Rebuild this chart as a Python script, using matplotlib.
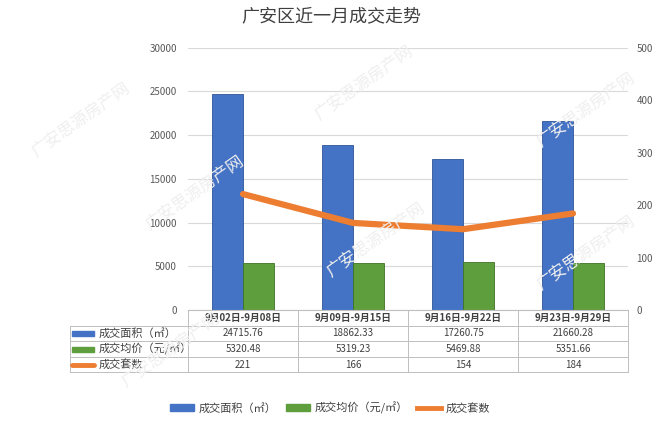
import numpy as np
import matplotlib.pyplot as plt
from matplotlib import transforms
from matplotlib.patches import Rectangle, Patch
from matplotlib.lines import Line2D

plt.rcParams['font.family'] = ['Noto Sans CJK SC', 'DejaVu Sans']

# data
periods = ['9月02日-9月08日', '9月09日-9月15日', '9月16日-9月22日', '9月23日-9月29日']
area = [24715.76, 18862.33, 17260.75, 21660.28]
price = [5320.48, 5319.23, 5469.88, 5351.66]
units = [221, 166, 154, 184]
names = ['成交面积（㎡）', '成交均价（元/㎡）', '成交套数']
left_ticks = [0, 5000, 10000, 15000, 20000, 25000, 30000]
right_ticks = [0, 100, 200, 300, 400, 500]

BLUE = '#4472c4'
GREEN = '#5f9e3d'
ORANGE = '#ed7d31'
GRID = '#d9d9d9'
TXT = '#404040'

W, H = 662, 428
fig = plt.figure(figsize=(W / 100, H / 100), dpi=100)

# plot area in pixels
x0, x1, ytop, ybot = 188, 628, 47.7, 310
ax = fig.add_axes([x0 / W, 1 - ybot / H, (x1 - x0) / W, (ybot - ytop) / H])

x = np.arange(len(periods))
w = 0.28
ax.bar(x - w / 2, area, w, color=BLUE, edgecolor='#2f5597', lw=0.6, zorder=2)
ax.bar(x + w / 2, price, w, color=GREEN, edgecolor='#3e7326', lw=0.6, zorder=2)
ax.set_xlim(-0.5, len(periods) - 0.5)
ax.set_ylim(0, 30000)
ax.set_yticks(left_ticks)
ax.set_yticklabels([str(t) for t in left_ticks], fontsize=7, color='#595959')
ax.set_xticks([])
ax.tick_params(axis='y', length=0, pad=8)
ax.grid(axis='y', color=GRID, lw=0.8, zorder=0)
for s in ['top', 'left', 'right']:
    ax.spines[s].set_visible(False)
ax.spines['bottom'].set_color('#bfbfbf')

ax2 = ax.twinx()
ax2.plot(x, units, color=ORANGE, lw=4.5, solid_capstyle='round', zorder=3)
ax2.set_ylim(0, 500)
ax2.set_yticks(right_ticks)
ax2.set_yticklabels([str(t) for t in right_ticks], fontsize=7, color='#595959')
ax2.tick_params(axis='y', length=0, pad=6)
for s in ['top', 'left', 'right', 'bottom']:
    ax2.spines[s].set_visible(False)

# data table under the axis
trans = transforms.blended_transform_factory(ax.transData, ax.transAxes)
ph = ybot - ytop


def ya(p):
    return (ybot - p) / ph


def xd(p):
    return (p - x0) / ((x1 - x0) / len(periods)) - 0.5


rows = [310, 325.5, 341, 357, 372]
tleft = xd(70)
lc = '#bfbfbf'
for r in rows[1:]:
    ax.add_line(Line2D([tleft, len(periods) - 0.5], [ya(r), ya(r)], transform=trans,
                       color=lc, lw=0.7, clip_on=False))
for b in np.arange(len(periods) + 1) - 0.5:
    ax.add_line(Line2D([b, b], [ya(rows[0]), ya(rows[-1])], transform=trans,
                       color=lc, lw=0.7, clip_on=False))
ax.add_line(Line2D([tleft, tleft], [ya(rows[1]), ya(rows[-1])], transform=trans,
                   color=lc, lw=0.7, clip_on=False))

for i, p in enumerate(periods):
    ax.text(i, ya((rows[0] + rows[1]) / 2), p, transform=trans, ha='center', va='center',
            fontsize=7, color=TXT, fontweight='bold', clip_on=False)

cols = [['%.2f' % v for v in area], ['%.2f' % v for v in price], [str(v) for v in units]]
for k, vals in enumerate(cols):
    yc = ya((rows[k + 1] + rows[k + 2]) / 2)
    for i, v in enumerate(vals):
        ax.text(i, yc, v, transform=trans, ha='center', va='center',
                fontsize=7, color=TXT, clip_on=False)
    ax.text(xd(99), yc, names[k], transform=trans, ha='left', va='center',
            fontsize=8, color=TXT, clip_on=False)
    if k < 2:
        ax.add_patch(Rectangle((xd(72), yc - 2.5 / ph), xd(94) - xd(72), 5 / ph,
                               transform=trans, color=[BLUE, GREEN][k], clip_on=False))
    else:
        ax.add_line(Line2D([xd(72), xd(94)], [yc, yc], transform=trans, color=ORANGE,
                           lw=3.5, solid_capstyle='round', clip_on=False))

# bottom legend
handles = [Patch(color=BLUE), Patch(color=GREEN), Line2D([], [], color=ORANGE, lw=3.5)]
fig.legend(handles, names, loc='center', bbox_to_anchor=(330 / W, 1 - 408 / H), ncol=3,
           frameon=False, fontsize=8, handlelength=2.2, handleheight=0.6, columnspacing=0.8,
           handletextpad=0.4, labelcolor=TXT)

fig.text(331 / W, 1 - 17 / H, '广安区近一月成交走势', fontsize=13, ha='center', va='center',
         color=TXT)

# faint watermarks (inner ones only)
marks = [(194, 193), (363, 83), (375, 240), (585, 110), (585, 253), (80, 120), (170, 350)]
for mx, my in marks:
    fig.text(mx / W, 1 - my / H, '广安思源房产网', fontsize=12, rotation=35, ha='center',
             va='center', color='#efefef', zorder=0)

fig.savefig('out.png', dpi=100)
